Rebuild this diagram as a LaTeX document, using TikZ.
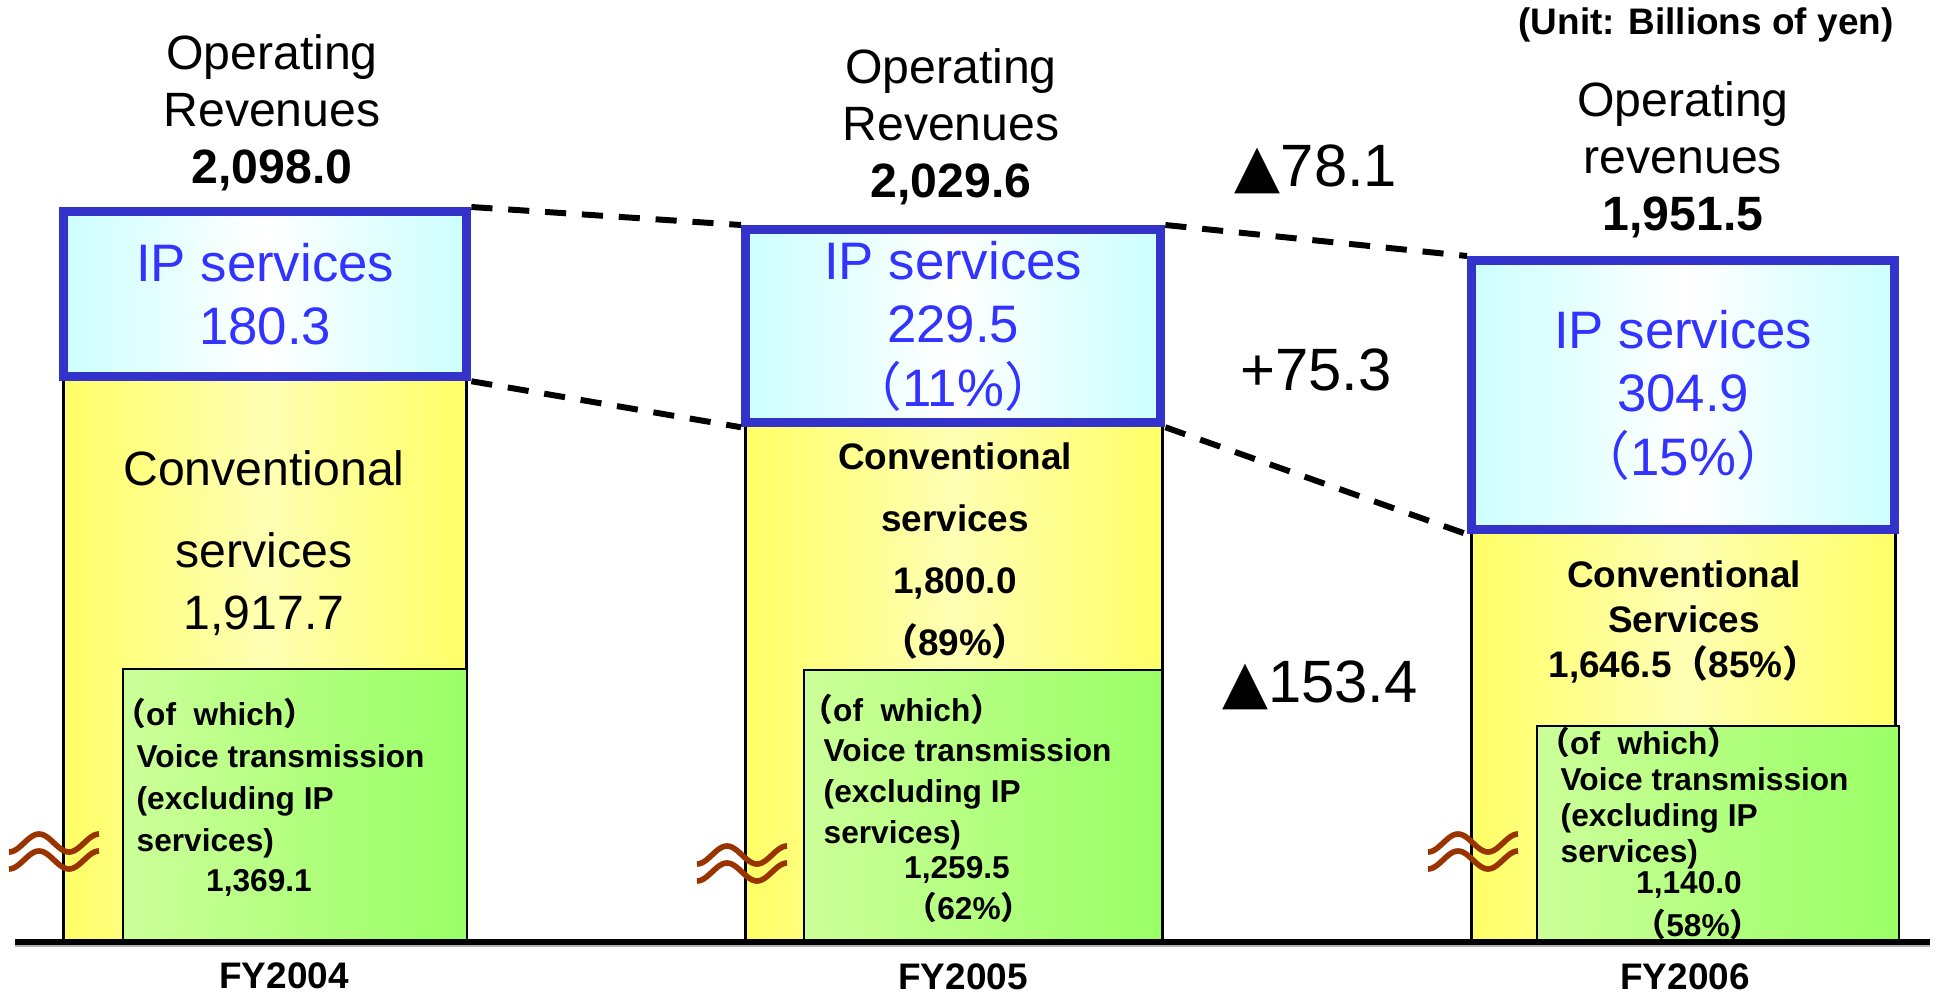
\documentclass[tikz,border=0pt]{standalone}
\usepackage{fontspec}
\setmainfont{Liberation Sans}
\newfontfamily\jpfont{Noto Sans CJK JP}
\newfontfamily\trifont{DejaVu Sans}
\definecolor{ipedge}{RGB}{51,51,204}
\definecolor{iptext}{RGB}{51,51,255}
\definecolor{ipfill}{RGB}{204,255,255}
\definecolor{convside}{RGB}{255,255,102}
\definecolor{convmid}{RGB}{255,255,180}
\definecolor{voiceleft}{RGB}{204,255,153}
\definecolor{voiceright}{RGB}{153,255,102}
\definecolor{cutmark}{RGB}{153,51,0}
\newcommand{\lp}{{\jpfont （}}
\newcommand{\rp}{{\jpfont ）}}
\tikzset{
  ipbox/.style={draw=ipedge,line width=2.6pt,left color=ipfill,right color=ipfill,middle color=white,
    anchor=north west,inner sep=0pt,align=center,text=iptext,font=\fontsize{15}{18}\selectfont},
  convbox/.style={draw=black,line width=0.8pt,left color=convside,right color=convside,middle color=convmid,
    anchor=north west,inner sep=0pt},
  voicebox/.style={draw=black,line width=0.6pt,left color=voiceleft,right color=voiceright,
    anchor=north west,inner sep=0pt},
  head/.style={align=center,inner sep=0pt,font=\fontsize{13.7}{16.2}\selectfont},
  convtxt/.style={align=center,inner sep=0pt,font=\fontsize{13.7}{17.4}\selectfont},
  convbold/.style={align=center,inner sep=0pt,font=\bfseries\fontsize{10.5}{17.6}\selectfont},
  voicetxt/.style={align=left,anchor=west,inner sep=0pt,font=\bfseries\fontsize{9}{11.9}\selectfont},
  delta/.style={inner sep=0pt,font=\fontsize{17}{20}\selectfont},
  fy/.style={inner sep=0pt,font=\bfseries\fontsize{10.5}{12}\selectfont},
  link/.style={line width=1.7pt,dash pattern=on 6pt off 4.5pt}
}
\begin{document}
\begin{tikzpicture}[x=0.01cm,y=-0.01cm]
\useasboundingbox (0,0) rectangle (1936,997);
\node[inner sep=0pt,font=\bfseries\fontsize{10.5}{12}\selectfont] (unit) at (1706,25) {(Unit: Billions of yen)};

% FY2004
\node[convbox,minimum width=4.03cm,minimum height=5.67cm] (cv1) at (62,375) {};
\node[voicebox,minimum width=3.44cm,minimum height=2.74cm] (vc1) at (122,668) {};
\node[ipbox,minimum width=4.03cm,minimum height=1.65cm] (ip1) at (59,207) {IP services\\180.3};
\node[head] (hd1) at (272,113) {Operating\\Revenues\\\textbf{2,098.0}};
\node[convtxt] (ct1) at (264,543) {Conventional\\[6pt]services\\1,917.7};
\node[voicetxt] (vt1) at (136,778) {\hspace*{-0.7em}\lp of\ \ which\rp\\Voice transmission\\(excluding IP\\services)};
\node[voicetxt,anchor=center] (vn1) at (259,883) {1,369.1};
\node[fy] (fy1) at (284,976) {FY2004};

% FY2005
\node[convbox,minimum width=4.17cm,minimum height=5.21cm] (cv2) at (744,421) {};
\node[voicebox,minimum width=3.58cm,minimum height=2.73cm] (vc2) at (803,669) {};
\node[ipbox,minimum width=4.15cm,minimum height=1.93cm] (ip2) at (741,225) {IP services\\229.5\\\lp 11\%\rp};
\node[head] (hd2) at (951,127) {Operating\\Revenues\\\textbf{2,029.6}};
\node[convbold] (ct2) at (955,551) {Conventional\\services\\1,800.0\\\lp 89\%\rp};
\node[voicetxt,font=\bfseries\fontsize{9}{11.6}\selectfont] (vt2) at (823,772) {\hspace*{-0.7em}\lp of\ \ which\rp\\Voice transmission\\(excluding IP\\services)};
\node[voicetxt,anchor=center] (vn2) at (957,870) {1,259.5};
\node[voicetxt,anchor=center] (vp2) at (969,907) {\lp 62\%\rp};
\node[fy] (fy2) at (963,977) {FY2005};

% FY2006
\node[convbox,minimum width=4.24cm,minimum height=4.14cm] (cv3) at (1470,528) {};
\node[voicebox,minimum width=3.62cm,minimum height=2.17cm] (vc3) at (1536,725) {};
\node[ipbox,minimum width=4.23cm,minimum height=2.69cm] (ip3) at (1467,256) {IP services\\304.9\\\lp 15\%\rp};
\node[head] (hd3) at (1683,160) {Operating\\revenues\\\textbf{1,951.5}};
\node[convbold,font=\bfseries\fontsize{10.5}{12.7}\selectfont] (ct3) at (1684,622) {Conventional\\Services\\1,646.5\lp 85\%\rp};
\node[voicetxt,font=\bfseries\fontsize{9}{10.2}\selectfont] (vt3) at (1560,798) {\hspace*{-0.7em}\lp of\ \ which\rp\\Voice transmission\\(excluding IP\\services)};
\node[voicetxt,anchor=center] (vn3) at (1689,885) {1,140.0};
\node[voicetxt,anchor=center] (vp3) at (1698,924) {\lp 58\%\rp};
\node[fy] (fy3) at (1685,977) {FY2006};

\node[delta] (d1) at (1316,169) {{\trifont ▲}78.1};
\node[delta] (d2) at (1316,370) {+75.3};
\node[delta] (d3) at (1320,685) {{\trifont ▲}153.4};

\draw[link] (ip1.north east) -- (ip2.north west);
\draw[link] (ip1.south east) -- (ip2.south west);
\draw[link] (ip2.north east) -- (ip3.north west);
\draw[link] (ip2.south east) -- (ip3.south west);

\foreach \cx/\cy in {54/852,742/864,1473/852}
  \foreach \dy in {-9,8}
    \draw[cutmark,line width=1.6pt] plot[samples=40,domain=0:540,smooth,variable=\t] ({\cx-45+\t/6},{\cy+\dy+9*cos(\t)});

\draw[gray!60,line width=0.6pt] (15,946) -- (1930,946);
\draw[line width=1.5pt] (15,942) -- (1930,942);
\end{tikzpicture}
\end{document}
